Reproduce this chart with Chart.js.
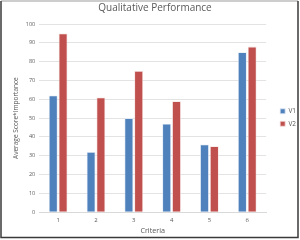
<!DOCTYPE html>
<html><head><meta charset="utf-8">
<script src="https://cdn.jsdelivr.net/npm/chart.js@4"></script>
<style>html,body{margin:0;padding:0;background:#fff}#w{width:300px;height:240px;position:relative}</style>
</head><body><div id="w"><canvas id="c"></canvas></div>
<script>
const categories = ['1','2','3','4','5','6'];
const v1 = [62, 32, 50, 47, 36, 85];
const v2 = [95, 61, 75, 59, 35, 88];
const seriesNames = ['V1','V2'];
const titleText = 'Qualitative Performance';
const xTitle = 'Criteria';
const yTitle = 'Average Score*Importance';

const frame = {
  id: 'frame',
  afterDraw(chart) {
    const ctx = chart.ctx;
    ctx.save();
    ctx.lineWidth = 1.5;
    ctx.strokeStyle = '#bdbdbd';
    ctx.beginPath(); ctx.moveTo(1, 1); ctx.lineTo(298, 1); ctx.stroke();
    ctx.strokeStyle = '#3a3a3a';
    ctx.beginPath(); ctx.moveTo(1, 1); ctx.lineTo(1, 237.5); ctx.lineTo(298, 237.5); ctx.lineTo(298, 1); ctx.stroke();
    ctx.restore();
  }
};

const LEGEND_SHIFT = 8;
const legendShift = {
  id: 'legendShift',
  afterLayout(chart) {
    if (chart.legend) chart.legend.left += LEGEND_SHIFT;
  }
};

new Chart(document.getElementById('c'), {
  type: 'bar',
  data: {
    labels: categories,
    datasets: [
      {label: seriesNames[0], data: v1, backgroundColor: '#4F81BD', borderColor: '#dfe8f3', borderWidth: 0.8},
      {label: seriesNames[1], data: v2, backgroundColor: '#C0504D', borderColor: '#f3dede', borderWidth: 0.8}
    ]
  },
  options: {
    responsive: true, maintainAspectRatio: false, animation: false,
    devicePixelRatio: 1,
    layout: {padding: {left: 12, right: 2, top: 0, bottom: 5}},
    datasets: {bar: {barPercentage: 0.9, categoryPercentage: 0.52}},
    plugins: {
      title: {display: true, text: titleText, color: '#595959', font: {family: 'Open Sans', size: 10, weight: 'normal'}, padding: {top: 2, bottom: 10}},
      legend: {position: 'right', labels: {boxWidth: 5, boxHeight: 5, padding: 6, color: '#595959', font: {family: 'Open Sans', size: 6.5}}},
      tooltip: {enabled: false}
    },
    scales: {
      x: {
        grid: {display: false, drawTicks: false, tickLength: 0},
        border: {color: '#d9d9d9'},
        ticks: {color: '#595959', font: {family: 'Open Sans', size: 6}, padding: 5},
        title: {display: true, text: xTitle, color: '#595959', font: {family: 'Open Sans', size: 7.2}, padding: {top: -3, bottom: 0}}
      },
      y: {
        min: 0, max: 100,
        ticks: {stepSize: 10, color: '#595959', font: {family: 'Open Sans', size: 5.5}, padding: 4},
        grid: {color: '#e3e3e3', drawTicks: false, tickLength: 0},
        border: {display: false},
        title: {display: true, text: yTitle, color: '#595959', font: {family: 'Open Sans', size: 6.5}, padding: {top: 0, bottom: 2}}
      }
    }
  },
  plugins: [frame, legendShift]
});
</script></body></html>
